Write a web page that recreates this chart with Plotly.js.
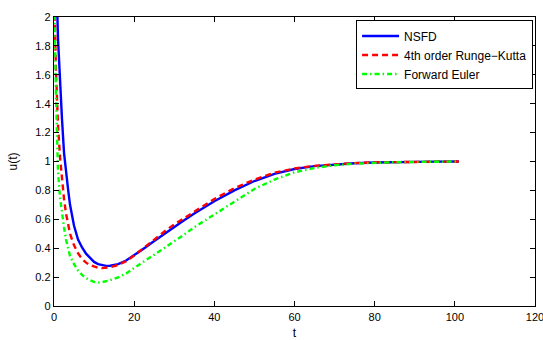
<!DOCTYPE html>
<html>
<head>
<meta charset="utf-8">
<script src="https://cdn.plot.ly/plotly-3.0.1.min.js"></script>
<style>
html,body{margin:0;padding:0;background:#fff;}
#chart{width:543px;height:340px;}
</style>
</head>
<body>
<div id="chart"></div>
<script>
// NSFD
const tNSFD = [0, 0.5, 1, 1.5, 2, 2.5, 3, 3.5, 4, 5, 6, 7, 8, 9, 10, 11, 12, 13, 14, 16, 18, 20, 22, 25, 28, 30, 32, 35, 40, 45, 50, 55, 60, 65, 70, 75, 80, 85, 90, 95, 101];
const uNSFD = [3.4, 2.35, 1.85, 1.52, 1.29, 1.06, 0.92, 0.81, 0.70, 0.555, 0.46, 0.405, 0.362, 0.33, 0.305, 0.29, 0.282, 0.278, 0.279, 0.29, 0.315, 0.35, 0.39, 0.45, 0.51, 0.55, 0.585, 0.64, 0.725, 0.80, 0.865, 0.915, 0.948, 0.968, 0.98, 0.988, 0.993, 0.996, 0.998, 0.999, 1.0];
// 4th order Runge-Kutta
const tRK = [0, 0.2, 0.5, 1, 1.5, 2, 2.5, 3, 3.5, 4, 5, 6, 7, 8, 9, 10, 11, 12, 13, 14, 16, 18, 20, 22, 25, 28, 30, 32, 35, 40, 45, 50, 55, 60, 65, 70, 75, 80, 85, 90, 95, 101];
const uRK = [3.4, 2.0, 1.62, 1.25, 1.03, 0.86, 0.74, 0.64, 0.56, 0.50, 0.42, 0.365, 0.325, 0.30, 0.283, 0.272, 0.265, 0.262, 0.263, 0.268, 0.284, 0.31, 0.35, 0.395, 0.46, 0.525, 0.565, 0.60, 0.655, 0.74, 0.815, 0.875, 0.922, 0.952, 0.97, 0.981, 0.989, 0.994, 0.996, 0.998, 0.999, 1.0];
// Forward Euler
const tFE = [0, 0.15, 0.5, 1, 1.5, 2, 2.5, 3, 3.5, 4, 5, 6, 7, 8, 9, 10, 11, 12, 14, 16, 18, 20, 22, 25, 28, 30, 32, 35, 40, 45, 50, 55, 60, 65, 70, 75, 80, 85, 90, 95, 101];
const uFE = [3.4, 2.0, 1.45, 0.93, 0.75, 0.63, 0.545, 0.46, 0.40, 0.345, 0.29, 0.245, 0.215, 0.193, 0.178, 0.167, 0.163, 0.165, 0.178, 0.198, 0.225, 0.26, 0.30, 0.355, 0.41, 0.445, 0.485, 0.545, 0.635, 0.725, 0.81, 0.875, 0.925, 0.955, 0.974, 0.985, 0.991, 0.995, 0.997, 0.999, 1.0];

const xTicks = [0, 20, 40, 60, 80, 100, 120];
const xTickText = ["0", "20", "40", "60", "80", "100", "120"];
const yTicks = [0, 0.2, 0.4, 0.6, 0.8, 1, 1.2, 1.4, 1.6, 1.8, 2];
const yTickText = ["0", "0.2", "0.4", "0.6", "0.8", "1", "1.2", "1.4", "1.6", "1.8", "2"];

const names = ["NSFD", "4th order Runge\u2212Kutta", "Forward Euler"];

const FONT = "Liberation Sans, Arial, Helvetica, sans-serif";

const traces = [
  {x: tNSFD, y: uNSFD, name: names[0], mode: "lines", line: {color: "#0000ff", width: 2.4}},
  {x: tRK, y: uRK, name: names[1], mode: "lines", line: {color: "#ff0000", width: 2.4, dash: "6px,4px"}},
  {x: tFE, y: uFE, name: names[2], mode: "lines", line: {color: "#00ff00", width: 2.4, dash: "5px,3px,1.5px,3px"}}
];

const axisCommon = {
  showline: true, linecolor: "#000", linewidth: 1.3, mirror: "ticks",
  ticks: "inside", ticklen: 5, tickwidth: 1, tickcolor: "#000",
  showgrid: false, zeroline: false, ticklabeloverflow: "allow",
  tickfont: {family: FONT, size: 11, color: "#000"}
};

const layout = {
  width: 543, height: 340,
  margin: {l: 54, r: 8, t: 17, b: 34},
  paper_bgcolor: "#fff", plot_bgcolor: "#fff",
  font: {family: FONT, color: "#000"},
  showlegend: true,
  xaxis: Object.assign({}, axisCommon, {
    range: [0, 120], tickmode: "array", tickvals: xTicks, ticktext: xTickText,
    title: {text: "t", font: {family: FONT, size: 12, color: "#000"}, standoff: 7}
  }),
  yaxis: Object.assign({}, axisCommon, {
    range: [0, 2], tickmode: "array", tickvals: yTicks, ticktext: yTickText,
    title: {text: "u(t)", font: {family: FONT, size: 12, color: "#000"}, standoff: 15}
  }),
  legend: {
    x: 0.996, y: 0.988, xanchor: "right", yanchor: "top",
    bgcolor: "#fff", bordercolor: "#000", borderwidth: 1,
    itemwidth: 37, tracegroupgap: 0,
    font: {family: FONT, size: 12, color: "#000"}
  }
};

Plotly.newPlot("chart", traces, layout, {staticPlot: true, displayModeBar: false});
</script>
</body>
</html>
